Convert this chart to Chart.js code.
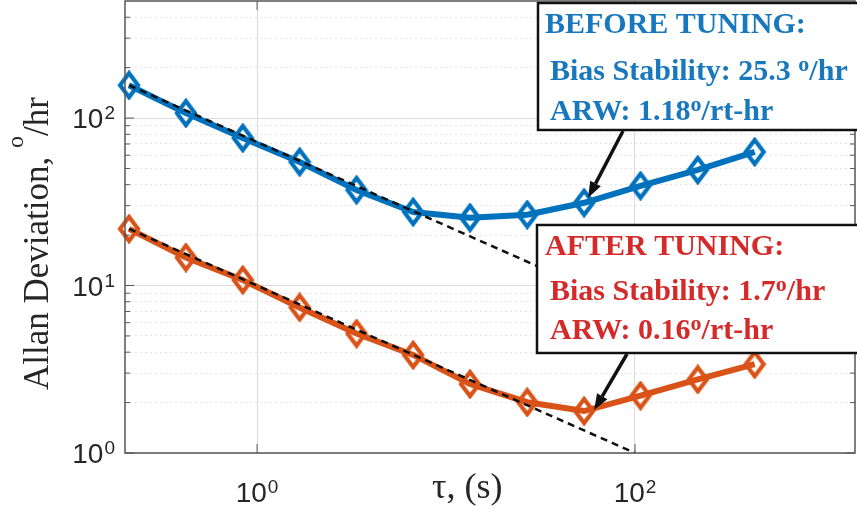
<!DOCTYPE html>
<html>
<head>
<meta charset="utf-8">
<script src="https://cdn.jsdelivr.net/npm/chart.js@4/dist/chart.umd.min.js"></script>
<style>
  html, body { margin: 0; padding: 0; background: #fff; }
  #wrap { width: 857px; height: 512px; position: relative; }
</style>
</head>
<body>
<div id="wrap"><canvas id="myChart" width="857" height="512"></canvas></div>
<script>
// values
const tau = [0.21, 0.42, 0.84, 1.68, 3.36, 6.7, 13.4, 26.9, 53.8, 107, 215, 430];
const beforeDev = [157, 107, 76, 54.7, 37.2, 27.5, 25.4, 26.5, 31.2, 39.4, 49, 62.8];
const afterDev = [21.8, 14.7, 10.8, 7.4, 5.17, 3.85, 2.58, 2.01, 1.78, 2.2, 2.75, 3.39];
const arwTau = [0.21, 100];
const arwBefore = [157, 7.2];
const arwAfter = [21.8, 1.0];

const xTicks = [1, 100];
const xTickLabels = [['10', '0'], ['10', '2']];
const yDecades = [1, 10, 100];
const yTickLabels = [['10', '0'], ['10', '1'], ['10', '2']];

const beforeNote = [
    [{ t: 'BEFORE TUNING:' }],
    [{ t: 'Bias Stability: 25.3 ' }, { t: 'o', sup: true }, { t: '/hr' }],
    [{ t: 'ARW: 1.18' }, { t: 'o', sup: true }, { t: '/rt-hr' }]
];
const afterNote = [
    [{ t: 'AFTER TUNING:' }],
    [{ t: 'Bias Stability: 1.7' }, { t: 'o', sup: true }, { t: '/hr' }],
    [{ t: 'ARW: 0.16' }, { t: 'o', sup: true }, { t: '/rt-hr' }]
];

const BLUE = '#0072BD';
const ORANGE = '#D95319';
const INK = '#262626';

function toPoints(xs, ys) {
    return xs.map((x, i) => ({ x: x, y: ys[i] }));
}

// tall hollow diamond marker, like the matlab one
function diamond(color) {
    const c = document.createElement('canvas');
    c.width = 24; c.height = 30;
    const g = c.getContext('2d');
    g.strokeStyle = color;
    g.lineWidth = 4.2;
    g.lineJoin = 'miter';
    g.beginPath();
    g.moveTo(12, 3); g.lineTo(21, 15); g.lineTo(12, 27); g.lineTo(3, 15);
    g.closePath();
    g.stroke();
    return c;
}

function drawParts(ctx, parts, x, y, font, supFont, raise) {
    let cx = x;
    parts.forEach(function (p) {
        ctx.font = p.sup ? supFont : font;
        ctx.fillText(p.t, cx, p.sup ? y - raise : y);
        cx += ctx.measureText(p.t).width;
    });
}

function drawPow(ctx, base, exp, x, y, align) {
    ctx.font = '28px "Liberation Sans", Arial, sans-serif';
    const wb = ctx.measureText(base).width;
    ctx.font = '19px "Liberation Sans", Arial, sans-serif';
    const we = ctx.measureText(exp).width;
    const total = wb + 1 + we;
    let x0 = x;
    if (align === 'right') x0 = x - total;
    if (align === 'center') x0 = x - total / 2;
    ctx.textAlign = 'left';
    ctx.textBaseline = 'alphabetic';
    ctx.font = '28px "Liberation Sans", Arial, sans-serif';
    ctx.fillText(base, x0, y);
    ctx.font = '19px "Liberation Sans", Arial, sans-serif';
    ctx.fillText(exp, x0 + wb + 1, y - 9);
}

function drawArrow(ctx, x1, y1, x2, y2) {
    const ang = Math.atan2(y2 - y1, x2 - x1);
    const len = 16, half = 6;
    const bx = x2 - len * Math.cos(ang), by = y2 - len * Math.sin(ang);
    ctx.strokeStyle = '#111';
    ctx.fillStyle = '#111';
    ctx.lineWidth = 3.5;
    ctx.beginPath();
    ctx.moveTo(x1, y1);
    ctx.lineTo(bx, by);
    ctx.stroke();
    ctx.beginPath();
    ctx.moveTo(x2, y2);
    ctx.lineTo(bx + half * Math.sin(ang), by - half * Math.cos(ang));
    ctx.lineTo(bx - half * Math.sin(ang), by + half * Math.cos(ang));
    ctx.closePath();
    ctx.fill();
}

function drawNote(ctx, lines, box, color) {
    ctx.save();
    ctx.fillStyle = '#fff';
    ctx.fillRect(box.x, box.y, box.w, box.h);
    ctx.strokeStyle = '#111';
    ctx.lineWidth = 2.5;
    ctx.strokeRect(box.x, box.y, box.w, box.h);
    ctx.fillStyle = color;
    ctx.textAlign = 'left';
    ctx.textBaseline = 'alphabetic';
    lines.forEach(function (parts, i) {
        drawParts(ctx, parts, box.tx[i], box.ty[i],
            'bold 30px "Liberation Serif", "Times New Roman", serif',
            'bold 22px "Liberation Serif", "Times New Roman", serif', 9);
    });
    ctx.restore();
}

const decorPlugin = {
    id: 'decor',
    afterDraw(chart) {
        const ctx = chart.ctx;
        const a = chart.chartArea;
        const xs = chart.scales.x, ys = chart.scales.y;

        // axes box and inner ticks
        ctx.save();
        ctx.strokeStyle = '#555';
        ctx.lineWidth = 1.5;
        ctx.strokeRect(a.left, a.top, a.right - a.left, a.bottom - a.top);
        ctx.lineWidth = 1;
        ys.ticks.forEach(function (t) {
            const py = ys.getPixelForValue(t.value);
            const l = t.major ? 9 : 5;
            ctx.beginPath();
            ctx.moveTo(a.left, py); ctx.lineTo(a.left + l, py);
            ctx.moveTo(a.right, py); ctx.lineTo(a.right - l, py);
            ctx.stroke();
        });
        xs.ticks.forEach(function (t) {
            const px = xs.getPixelForValue(t.value);
            ctx.beginPath();
            ctx.moveTo(px, a.bottom); ctx.lineTo(px, a.bottom - 9);
            ctx.moveTo(px, a.top); ctx.lineTo(px, a.top + 9);
            ctx.stroke();
        });

        // tick labels
        ctx.fillStyle = INK;
        yDecades.forEach(function (v, i) {
            drawPow(ctx, yTickLabels[i][0], yTickLabels[i][1], 115, ys.getPixelForValue(v) + 10, 'right');
        });
        xTicks.forEach(function (v, i) {
            drawPow(ctx, xTickLabels[i][0], xTickLabels[i][1], xs.getPixelForValue(v), 502, 'center');
        });

        // axis titles
        ctx.textAlign = 'left';
        ctx.textBaseline = 'alphabetic';
        ctx.font = '36px "Liberation Serif", "Times New Roman", serif';
        ctx.fillText('\u03c4, (s)', 432, 498);
        ctx.save();
        ctx.translate(48, 390);
        ctx.rotate(-Math.PI / 2);
        drawParts(ctx, [{ t: 'Allan Deviation, ' }, { t: 'o', sup: true }, { t: '/hr' }], 0, 0,
            '35px "Liberation Serif", "Times New Roman", serif',
            '24px "Liberation Serif", "Times New Roman", serif', 25);
        ctx.restore();
        ctx.restore();

        // annotations
        const bx = xs.getPixelForValue(tau[8]), by = ys.getPixelForValue(beforeDev[8]);
        const ox = xs.getPixelForValue(tau[8]), oy = ys.getPixelForValue(afterDev[8]);
        ctx.save();
        drawArrow(ctx, 623, 131, bx + 4, by - 5);
        drawArrow(ctx, 627, 354, ox + 10, oy - 1);
        ctx.restore();
        drawNote(ctx, beforeNote, { x: 538, y: 3, w: 340, h: 127, tx: [545, 550, 550], ty: [33, 80, 120] }, '#1878BE');
        drawNote(ctx, afterNote, { x: 537, y: 225, w: 340, h: 128, tx: [545, 550, 550], ty: [255, 300, 339] }, '#D42A2A');
    }
};

const blueMark = diamond(BLUE);
const orangeMark = diamond(ORANGE);

const ctx = document.getElementById('myChart').getContext('2d');
new Chart(ctx, {
    type: 'line',
    data: {
        datasets: [
            {
                data: toPoints(arwTau, arwBefore),
                borderColor: '#111', borderWidth: 2.5, borderDash: [7, 5],
                pointRadius: 0, order: 0
            },
            {
                data: toPoints(arwTau, arwAfter),
                borderColor: '#111', borderWidth: 2.5, borderDash: [7, 5],
                pointRadius: 0, order: 0
            },
            {
                label: 'Before tuning',
                data: toPoints(tau, beforeDev),
                borderColor: BLUE, borderWidth: 6,
                pointStyle: blueMark, pointRadius: 12,
                clip: false, order: 1
            },
            {
                label: 'After tuning',
                data: toPoints(tau, afterDev),
                borderColor: ORANGE, borderWidth: 6,
                pointStyle: orangeMark, pointRadius: 12,
                clip: false, order: 1
            }
        ]
    },
    options: {
        responsive: false,
        animation: false,
        devicePixelRatio: 1,
        layout: { autoPadding: false, padding: { top: 1, right: 2, left: 0, bottom: 0 } },
        plugins: { legend: { display: false }, tooltip: { enabled: false } },
        scales: {
            x: {
                type: 'logarithmic',
                min: 0.2, max: 1460,
                afterBuildTicks: function (scale) {
                    scale.ticks = xTicks.map(v => ({ value: v, major: true }));
                },
                afterFit: function (scale) { scale.height = 59; },
                ticks: { display: false },
                grid: { color: '#dcdcdc', lineWidth: 1, drawTicks: false },
                border: { display: false }
            },
            y: {
                type: 'logarithmic',
                min: 1, max: 500,
                afterBuildTicks: function (scale) {
                    const t = [];
                    yDecades.forEach(function (d) {
                        for (let k = 1; k <= 9; k++) {
                            if (k * d < 500) t.push({ value: k * d, major: k === 1 });
                        }
                    });
                    scale.ticks = t;
                },
                afterFit: function (scale) { scale.width = 125; },
                ticks: { display: false },
                grid: {
                    color: c => (c.tick && c.tick.major) ? '#dcdcdc' : '#e4e4e4',
                    lineWidth: 1, drawTicks: false
                },
                border: {
                    display: false,
                    dash: c => (c.tick && !c.tick.major) ? [2, 3] : []
                }
            }
        }
    },
    plugins: [decorPlugin]
});
</script>
</body>
</html>
